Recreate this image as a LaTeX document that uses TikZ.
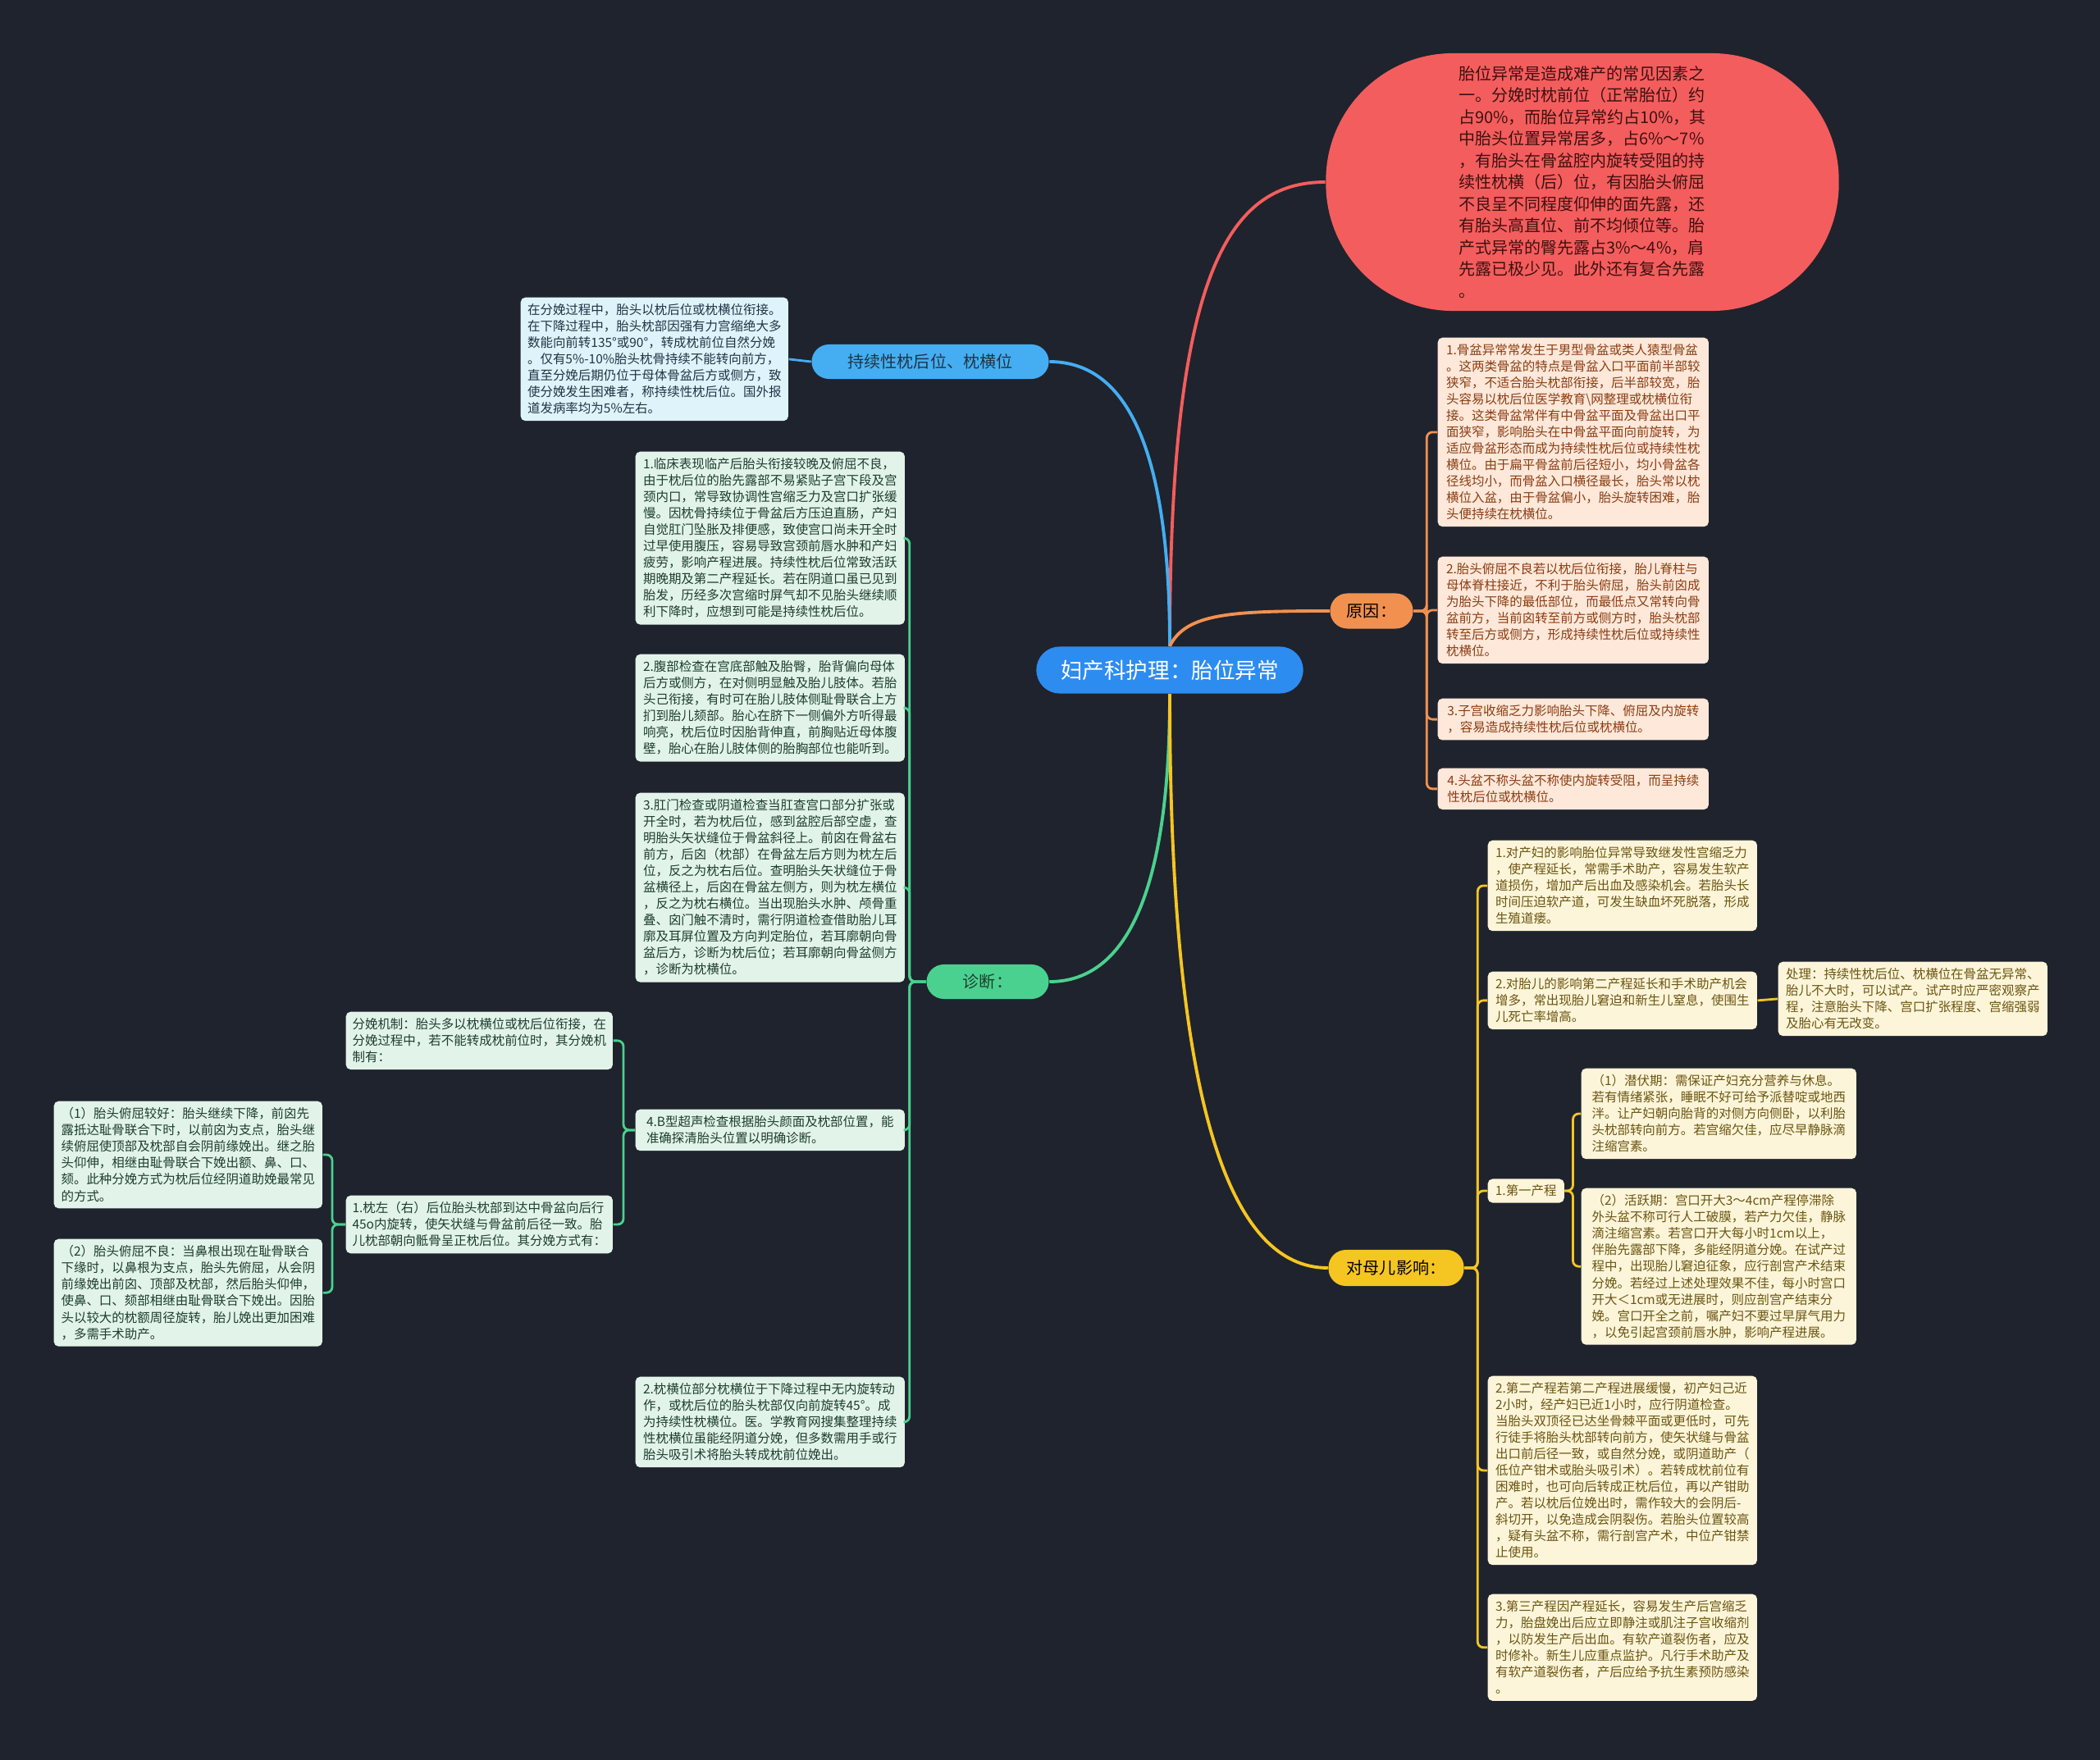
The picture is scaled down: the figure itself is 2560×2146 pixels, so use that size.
\documentclass[tikz,border=0pt]{standalone}
\usepackage{fontspec}
\setmainfont{Noto Sans CJK SC}
\usetikzlibrary{positioning}
\definecolor{bgc}{HTML}{1F232D}
\definecolor{rootc}{HTML}{2D8CF0}
\definecolor{redc}{HTML}{F45D5D}
\definecolor{redtxt}{HTML}{3D1010}
\definecolor{bluec}{HTML}{45AEF2}
\definecolor{bluebox}{HTML}{DFF3FB}
\definecolor{bluetxt}{HTML}{203444}
\definecolor{orangec}{HTML}{F2914F}
\definecolor{orangebox}{HTML}{FDE8DA}
\definecolor{orangetxt}{HTML}{8B3D12}
\definecolor{greenc}{HTML}{4BD18F}
\definecolor{greenbox}{HTML}{E2F4EA}
\definecolor{greentxt}{HTML}{1E3D2E}
\definecolor{yellowc}{HTML}{F5C522}
\definecolor{yellowbox}{HTML}{FDF5D9}
\definecolor{yellowtxt}{HTML}{6A5512}
\begin{document}
\begin{tikzpicture}[
x=0.01cm, y=-0.01cm,
box/.style={
  rounded corners=1.6pt,
  align=left,
  inner xsep=0.07cm,
  inner ysep=0.08cm,
  font=\fontsize{4.4pt}{5.69pt}\selectfont,
  anchor=north west,
  minimum width=3.28cm
  },
pill/.style={
  rounded corners=6pt,
  inner sep=0pt,
  minimum height=0.42cm,
  font=\fontsize{5.7pt}{6.8pt}\selectfont
  },
bbox/.style={box, fill=bluebox, text=bluetxt},
obox/.style={box, fill=orangebox, text=orangetxt},
gbox/.style={box, fill=greenbox, text=greentxt},
ybox/.style={box, fill=yellowbox, text=yellowtxt},
main/.style={line width=1.1pt},
sub/.style={line width=0.8pt, rounded corners=2pt}
]
\useasboundingbox (0,0) rectangle (2560,2146);
\fill[bgc] (0,0) rectangle (2560,2146);

\node[fill=rootc, text=white, rounded corners=8pt, minimum width=3.25cm, minimum height=0.57cm,
  font=\fontsize{7.55pt}{9pt}\selectfont] (root) at (1426,817) {妇产科护理：胎位异常};

\node[fill=redc, text=redtxt, rounded corners=1.55cm, minimum width=6.25cm, minimum height=3.14cm,
  align=left, font=\fontsize{5.69pt}{7.54pt}\selectfont] (red) at (1929,222)
{胎位异常是造成难产的常见因素之\\
一。分娩时枕前位（正常胎位）约\\
占90\%，而胎位异常约占10\%，其\\
中胎头位置异常居多，占6\%～7\%\\
，有胎头在骨盆腔内旋转受阻的持\\
续性枕横（后）位，有因胎头俯屈\\
不良呈不同程度仰伸的面先露，还\\
有胎头高直位、前不均倾位等。胎\\
产式异常的臀先露占3\%～4\%，肩\\
先露已极少见。此外还有复合先露\\
。};

\node[pill, fill=bluec, text=bluetxt, minimum width=2.89cm] (persist) at (1134,441) {持续性枕后位、枕横位};
\node[pill, fill=orangec, text=black, minimum width=1.01cm, minimum height=0.43cm] (reason) at (1672,745) {原因：};
\node[pill, fill=greenc, text=greentxt, minimum width=1.49cm] (diag) at (1204,1197) {诊断：};
\node[pill, fill=yellowc, text=black, minimum width=1.65cm, minimum height=0.44cm] (impact) at (1702,1546) {对母儿影响：};

\node[bbox, minimum width=3.26cm] (tl) at (634,362)
{在分娩过程中，胎头以枕后位或枕横位衔接。\\
在下降过程中，胎头枕部因强有力宫缩绝大多\\
数能向前转135°或90°，转成枕前位自然分娩\\
。仅有5\%-10\%胎头枕骨持续不能转向前方，\\
直至分娩后期仍位于母体骨盆后方或侧方，致\\
使分娩发生困难者，称持续性枕后位。国外报\\
道发病率均为5\%左右。};

\node[gbox] (d1) at (774,550)
{1.临床表现临产后胎头衔接较晚及俯屈不良，\\
由于枕后位的胎先露部不易紧贴子宫下段及宫\\
颈内口，常导致协调性宫缩乏力及宫口扩张缓\\
慢。因枕骨持续位于骨盆后方压迫直肠，产妇\\
自觉肛门坠胀及排便感，致使宫口尚未开全时\\
过早使用腹压，容易导致宫颈前唇水肿和产妇\\
疲劳，影响产程进展。持续性枕后位常致活跃\\
期晚期及第二产程延长。若在阴道口虽已见到\\
胎发，历经多次宫缩时屏气却不见胎头继续顺\\
利下降时，应想到可能是持续性枕后位。};

\node[gbox] (d2) at (774,797)
{2.腹部检查在宫底部触及胎臀，胎背偏向母体\\
后方或侧方，在对侧明显触及胎儿肢体。若胎\\
头己衔接，有时可在胎儿肢体侧耻骨联合上方\\
扪到胎儿颏部。胎心在脐下一侧偏外方听得最\\
响亮，枕后位时因胎背伸直，前胸贴近母体腹\\
壁，胎心在胎儿肢体侧的胎胸部位也能听到。};

\node[gbox] (d3) at (774,966)
{3.肛门检查或阴道检查当肛查宫口部分扩张或\\
开全时，若为枕后位，感到盆腔后部空虚，查\\
明胎头矢状缝位于骨盆斜径上。前囟在骨盆右\\
前方，后囟（枕部）在骨盆左后方则为枕左后\\
位，反之为枕右后位。查明胎头矢状缝位于骨\\
盆横径上，后囟在骨盆左侧方，则为枕左横位\\
，反之为枕右横位。当出现胎头水肿、颅骨重\\
叠、囟门触不清时，需行阴道检查借助胎儿耳\\
廓及耳屏位置及方向判定胎位，若耳廓朝向骨\\
盆后方，诊断为枕后位；若耳廓朝向骨盆侧方\\
，诊断为枕横位。};

\node[gbox] (d4) at (774,1352)
{4.B型超声检查根据胎头颜面及枕部位置，能\\
准确探清胎头位置以明确诊断。};

\node[gbox] (d5) at (774,1678)
{2.枕横位部分枕横位于下降过程中无内旋转动\\
作，或枕后位的胎头枕部仅向前旋转45°。成\\
为持续性枕横位。医。学教育网搜集整理持续\\
性枕横位虽能经阴道分娩，但多数需用手或行\\
胎头吸引术将胎头转成枕前位娩出。};

\node[gbox, minimum width=3.25cm] (m0) at (421,1233)
{分娩机制：胎头多以枕横位或枕后位衔接，在\\
分娩过程中，若不能转成枕前位时，其分娩机\\
制有：};

\node[gbox, minimum width=3.25cm] (m1) at (421,1457)
{1.枕左（右）后位胎头枕部到达中骨盆向后行\\
45o内旋转，使矢状缝与骨盆前后径一致。胎\\
儿枕部朝向骶骨呈正枕后位。其分娩方式有：};

\node[gbox, minimum width=3.27cm] (w1) at (65,1342)
{（1）胎头俯屈较好：胎头继续下降，前囟先\\
露抵达耻骨联合下时，以前囟为支点，胎头继\\
续俯屈使顶部及枕部自会阴前缘娩出。继之胎\\
头仰伸，相继由耻骨联合下娩出额、鼻、口、\\
颏。此种分娩方式为枕后位经阴道助娩最常见\\
的方式。};

\node[gbox, minimum width=3.27cm] (w2) at (65,1510)
{（2）胎头俯屈不良：当鼻根出现在耻骨联合\\
下缘时，以鼻根为支点，胎头先俯屈，从会阴\\
前缘娩出前囟、顶部及枕部，然后胎头仰伸，\\
使鼻、口、颏部相继由耻骨联合下娩出。因胎\\
头以较大的枕额周径旋转，胎儿娩出更加困难\\
，多需手术助产。};

\node[obox, minimum width=3.30cm] (c1) at (1752,411)
{1.骨盆异常常发生于男型骨盆或类人猿型骨盆\\
。这两类骨盆的特点是骨盆入口平面前半部较\\
狭窄，不适合胎头枕部衔接，后半部较宽，胎\\
头容易以枕后位医学教育\textbackslash 网整理或枕横位衔\\
接。这类骨盆常伴有中骨盆平面及骨盆出口平\\
面狭窄，影响胎头在中骨盆平面向前旋转，为\\
适应骨盆形态而成为持续性枕后位或持续性枕\\
横位。由于扁平骨盆前后径短小，均小骨盆各\\
径线均小，而骨盆入口横径最长，胎头常以枕\\
横位入盆，由于骨盆偏小，胎头旋转困难，胎\\
头便持续在枕横位。};

\node[obox, minimum width=3.30cm] (c2) at (1752,678)
{2.胎头俯屈不良若以枕后位衔接，胎儿脊柱与\\
母体脊柱接近，不利于胎头俯屈，胎头前囟成\\
为胎头下降的最低部位，而最低点又常转向骨\\
盆前方，当前囟转至前方或侧方时，胎头枕部\\
转至后方或侧方，形成持续性枕后位或持续性\\
枕横位。};

\node[obox, minimum width=3.30cm] (c3) at (1752,851)
{3.子宫收缩乏力影响胎头下降、俯屈及内旋转\\
，容易造成持续性枕后位或枕横位。};

\node[obox, minimum width=3.30cm] (c4) at (1752,936)
{4.头盆不称头盆不称使内旋转受阻，而呈持续\\
性枕后位或枕横位。};

\node[ybox] (i1) at (1813,1024)
{1.对产妇的影响胎位异常导致继发性宫缩乏力\\
，使产程延长，常需手术助产，容易发生软产\\
道损伤，增加产后出血及感染机会。若胎头长\\
时间压迫软产道，可发生缺血坏死脱落，形成\\
生殖道瘘。};

\node[ybox] (i2) at (1813,1184)
{2.对胎儿的影响第二产程延长和手术助产机会\\
增多，常出现胎儿窘迫和新生儿窒息，使围生\\
儿死亡率增高。};

\node[ybox] (care) at (2167,1172)
{处理：持续性枕后位、枕横位在骨盆无异常、\\
胎儿不大时，可以试产。试产时应严密观察产\\
程，注意胎头下降、宫口扩张程度、宫缩强弱\\
及胎心有无改变。};

\node[ybox, anchor=west, minimum width=0.93cm, minimum height=0.29cm, inner xsep=0.05cm, inner ysep=0pt] (i3) at (1813,1452)
{1.第一产程};

\node[ybox, minimum width=3.35cm] (p1) at (1927,1302)
{（1）潜伏期：需保证产妇充分营养与休息。\\
若有情绪紧张，睡眠不好可给予派替啶或地西\\
泮。让产妇朝向胎背的对侧方向侧卧，以利胎\\
头枕部转向前方。若宫缩欠佳，应尽早静脉滴\\
注缩宫素。};

\node[ybox, minimum width=3.35cm] (p2) at (1927,1448)
{（2）活跃期：宫口开大3～4cm产程停滞除\\
外头盆不称可行人工破膜，若产力欠佳，静脉\\
滴注缩宫素。若宫口开大每小时1cm以上，\\
伴胎先露部下降，多能经阴道分娩。在试产过\\
程中，出现胎儿窘迫征象，应行剖宫产术结束\\
分娩。若经过上述处理效果不佳，每小时宫口\\
开大＜1cm或无进展时，则应剖宫产结束分\\
娩。宫口开全之前，嘱产妇不要过早屏气用力\\
，以免引起宫颈前唇水肿，影响产程进展。};

\node[ybox] (i4) at (1813,1677)
{2.第二产程若第二产程进展缓慢，初产妇己近\\
2小时，经产妇已近1小时，应行阴道检查。\\
当胎头双顶径已达坐骨棘平面或更低时，可先\\
行徒手将胎头枕部转向前方，使矢状缝与骨盆\\
出口前后径一致，或自然分娩，或阴道助产（\\
低位产钳术或胎头吸引术）。若转成枕前位有\\
困难时，也可向后转成正枕后位，再以产钳助\\
产。若以枕后位娩出时，需作较大的会阴后-\\
斜切开，以免造成会阴裂伤。若胎头位置较高\\
，疑有头盆不称，需行剖宫产术，中位产钳禁\\
止使用。};

\node[ybox] (i5) at (1813,1943)
{3.第三产程因产程延长，容易发生产后宫缩乏\\
力，胎盘娩出后应立即静注或肌注子宫收缩剂\\
，以防发生产后出血。有软产道裂伤者，应及\\
时修补。新生儿应重点监护。凡行手术助产及\\
有软产道裂伤者，产后应给予抗生素预防感染\\
。};

\draw[main, redc] (root.north) .. controls +(0,-450) and +(-120,0) .. (red.west);
\draw[main, bluec] (root.north) .. controls +(0,-250) and +(90,0) .. (persist.east);
\draw[main, orangec] (root.north) .. controls +(20,-40) and +(-120,0) .. (reason.west);
\draw[main, greenc] (root.south) .. controls +(0,250) and +(90,0) .. (diag.east);
\draw[main, yellowc] (root.south) .. controls +(0,500) and +(-120,0) .. (impact.west);

\draw[sub, bluec] (persist.west) -- (tl.east);
\foreach \c in {c1,c2,c3,c4}
  \draw[sub, orangec] (reason.east) -- ++(16,0) |- (\c.west);
\foreach \c in {d1,d2,d3,d4,d5}
  \draw[sub, greenc] (diag.west) -- ++(-20,0) |- (\c.east);
\foreach \c in {m0,m1}
  \draw[sub, greenc] (d4.west) -- ++(-14,0) |- (\c.east);
\foreach \c in {w1,w2}
  \draw[sub, greenc] (m1.west) -- ++(-16,0) |- (\c.east);
\foreach \c in {i1,i2,i3,i4,i5}
  \draw[sub, yellowc] (impact.east) -- ++(16,0) |- (\c.west);
\foreach \c in {p1,p2}
  \draw[sub, yellowc] (i3.east) -- ++(10,0) |- (\c.west);
\draw[sub, yellowc] (i2.east) -- (care.west);

\end{tikzpicture}
\end{document}
